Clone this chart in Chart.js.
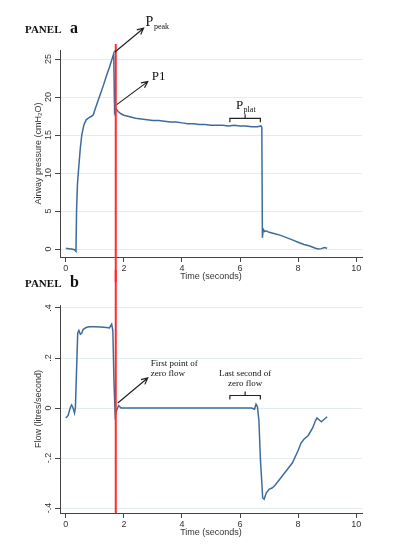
<!DOCTYPE html>
<html>
<head>
<meta charset="utf-8">
<script src="https://cdn.jsdelivr.net/npm/chart.js@4.4.1/dist/chart.umd.min.js"></script>
<style>
html, body { margin: 0; padding: 0; background: #fff; }
#wrap { position: relative; width: 399px; height: 553px; overflow: hidden; }
canvas { position: absolute; left: 0; }
#panelA { top: 0; }
#panelB { top: 270px; }
</style>
</head>
<body>
<div id="wrap">
  <canvas id="panelA" width="399" height="282"></canvas>
  <canvas id="panelB" width="399" height="268"></canvas>
</div>
<script>
// axis ticks
var timeTicks = [0, 2, 4, 6, 8, 10];
var pressureTicks = [0, 5, 10, 15, 20, 25];
var flowTicks = [-0.4, -0.2, 0, 0.2, 0.4];

// panel a : airway pressure (cmH2O)
var pressureTime = [0, 0.1, 0.2, 0.3, 0.35, 0.37, 0.4, 0.45, 0.5, 0.55, 0.62, 0.7, 0.8, 0.9, 0.95,
  1.0, 1.1, 1.2, 1.3, 1.4, 1.5, 1.6, 1.65, 1.68, 1.72, 1.8, 1.9, 2.0, 2.2, 2.4, 2.6, 2.8, 3.0,
  3.2, 3.4, 3.6, 3.8, 4.0, 4.2, 4.4, 4.6, 4.8, 5.0, 5.2, 5.4, 5.6, 5.8, 6.0, 6.2, 6.4, 6.6,
  6.72, 6.75, 6.77, 6.8, 6.85, 6.9, 7.0, 7.2, 7.4, 7.6, 7.8, 8.0, 8.2, 8.4, 8.6, 8.7, 8.8, 8.9, 9.0];
var pressureValue = [0.1, 0.05, 0, -0.1, -0.3, 5, 8.5, 11, 13.3, 15, 16.3, 17, 17.3, 17.5, 17.7,
  18.3, 19.4, 20.5, 21.6, 22.8, 23.9, 25.1, 25.7, 18.0, 18.5, 18.1, 17.8, 17.6, 17.4, 17.2, 17.1, 17.0, 16.9,
  16.9, 16.8, 16.7, 16.7, 16.6, 16.5, 16.5, 16.4, 16.4, 16.3, 16.3, 16.3, 16.2, 16.3, 16.2, 16.2, 16.1, 16.1,
  16.2, 16.0, 1.5, 2.6, 2.3, 2.4, 2.2, 2.0, 1.8, 1.5, 1.2, 0.9, 0.6, 0.4, 0.1, 0.0, 0.05, 0.2, 0.1];

// panel b : flow (litres/second)
var flowTime = [0, 0.08, 0.15, 0.2, 0.25, 0.3, 0.33, 0.37, 0.41, 0.45, 0.5, 0.55, 0.6, 0.7, 0.8,
  1.0, 1.2, 1.4, 1.5, 1.55, 1.58, 1.62, 1.66, 1.7, 1.75, 1.82, 1.9, 2.5, 3.5, 4.5, 5.5, 6.4,
  6.5, 6.55, 6.6, 6.65, 6.7, 6.78, 6.83, 6.9, 7.0, 7.1, 7.2, 7.4, 7.6, 7.8, 8.0, 8.1, 8.2,
  8.35, 8.5, 8.6, 8.65, 8.75, 8.8, 8.9, 9.0];
var flowValue = [-0.04, -0.03, 0.0, 0.012, 0.0, -0.02, 0.0, 0.15, 0.3, 0.31, 0.295, 0.3, 0.315, 0.322, 0.325,
  0.325, 0.324, 0.322, 0.32, 0.33, 0.335, 0.31, 0.1, -0.03, -0.01, 0.01, 0.0, 0.0, 0.0, 0.0, 0.0, 0.0,
  -0.005, 0.015, 0.005, -0.05, -0.2, -0.36, -0.365, -0.34, -0.325, -0.32, -0.31, -0.28, -0.25, -0.22, -0.17, -0.14, -0.125,
  -0.11, -0.08, -0.05, -0.04, -0.05, -0.055, -0.045, -0.035];

var markerTime = 1.72;

var lineColor = '#3d6c9c';
var sans = '"Liberation Sans", Arial, sans-serif';
var serif = '"Liberation Serif", "Times New Roman", serif';

function toPoints(xs, ys) {
  return xs.map(function (x, i) { return { x: x, y: ys[i] }; });
}

function fixedTicks(list) {
  return function (scale) {
    scale.ticks = list.map(function (v) { return { value: v }; });
  };
}

function flowLabel(v) {
  if (v === 0) return '0';
  var s = String(Math.abs(Math.round(v * 10) / 10)).replace(/^0/, '');
  return (v < 0 ? '-' : '') + s;
}

function arrow(ctx, x1, y1, x2, y2) {
  var a = Math.atan2(y2 - y1, x2 - x1), h = 7;
  ctx.beginPath();
  ctx.moveTo(x1, y1);
  ctx.lineTo(x2, y2);
  ctx.moveTo(x2 - h * Math.cos(a - 0.45), y2 - h * Math.sin(a - 0.45));
  ctx.lineTo(x2, y2);
  ctx.lineTo(x2 - h * Math.cos(a + 0.45), y2 - h * Math.sin(a + 0.45));
  ctx.stroke();
}

function bracket(ctx, x1, x2, y) {
  var mid = (x1 + x2) / 2;
  ctx.beginPath();
  ctx.moveTo(x1, y + 4);
  ctx.lineTo(x1, y);
  ctx.lineTo(x2, y);
  ctx.lineTo(x2, y + 4);
  ctx.moveTo(mid, y);
  ctx.lineTo(mid, y - 4);
  ctx.stroke();
}

function subLabel(ctx, x, y, main, sub, size) {
  ctx.textAlign = 'left';
  ctx.textBaseline = 'alphabetic';
  ctx.font = size + 'px ' + serif;
  ctx.fillText(main, x, y);
  var w = ctx.measureText(main).width;
  ctx.font = Math.round(size * 0.6) + 'px ' + serif;
  ctx.fillText(sub, x + w + 0.5, y + 3);
}

function panelTitle(ctx, y, letter) {
  ctx.fillStyle = '#111';
  ctx.textAlign = 'left';
  ctx.textBaseline = 'alphabetic';
  ctx.font = 'bold 11px ' + serif;
  ctx.fillText('PANEL', 25, y);
  ctx.font = 'bold 16px ' + serif;
  ctx.fillText(letter, 70, y);
}

function scales(yTicks, yMin, yMax, yTitle, yFormat) {
  return {
    x: {
      type: 'linear', min: -0.2, max: 10.2,
      afterBuildTicks: fixedTicks(timeTicks),
      afterFit: function (s) { s.height = 25; },
      grid: { drawOnChartArea: false, tickLength: 5, tickColor: '#444' },
      border: { color: '#444', width: 1 },
      ticks: { padding: 1, color: '#333', font: { family: sans, size: 9 } },
      title: { display: true, text: 'Time (seconds)', color: '#333', padding: 0, font: { family: sans, size: 9 } }
    },
    y: {
      type: 'linear', min: yMin, max: yMax,
      afterBuildTicks: fixedTicks(yTicks),
      afterFit: function (s) { s.width = 27; },
      grid: { color: '#e3edf0', lineWidth: 1, tickLength: 5, tickColor: '#444' },
      border: { color: '#444', width: 1 },
      ticks: { padding: 1, minRotation: 90, maxRotation: 90, crossAlign: 'center', color: '#333',
        font: { family: sans, size: 9 }, callback: yFormat },
      title: { display: true, text: yTitle, color: '#333', padding: 0, font: { family: sans, size: 9 } }
    }
  };
}

var notesA = {
  id: 'notesA',
  afterDatasetsDraw: function (chart) {
    var ctx = chart.ctx, xs = chart.scales.x, a = chart.chartArea;
    var x = xs.getPixelForValue(markerTime);
    ctx.save();
    ctx.strokeStyle = '#ff2b2b';
    ctx.lineWidth = 2;
    ctx.beginPath();
    ctx.moveTo(x, a.top - 6);
    ctx.lineTo(x, chart.height);
    ctx.stroke();
    ctx.restore();
  },
  afterDraw: function (chart) {
    var ctx = chart.ctx, xs = chart.scales.x, ys = chart.scales.y;
    ctx.save();
    panelTitle(ctx, 33, 'a');
    ctx.strokeStyle = '#222';
    ctx.fillStyle = '#111';
    ctx.lineWidth = 1.2;
    var px = xs.getPixelForValue(1.68), py = ys.getPixelForValue(25.9);
    arrow(ctx, px, py, px + 29, py - 24);
    subLabel(ctx, px + 31, py - 26, 'P', 'peak', 14);
    var qx = xs.getPixelForValue(markerTime) + 1, qy = ys.getPixelForValue(19);
    arrow(ctx, qx, qy, qx + 31, qy - 23);
    ctx.font = '13px ' + serif;
    ctx.textAlign = 'left';
    ctx.fillText('P1', qx + 35, qy - 25);
    var b1 = xs.getPixelForValue(5.65), b2 = xs.getPixelForValue(6.7), by = ys.getPixelForValue(17.2);
    bracket(ctx, b1, b2, by);
    subLabel(ctx, b1 + 6, by - 9, 'P', 'plat', 13);
    ctx.restore();
  }
};

var notesB = {
  id: 'notesB',
  afterDatasetsDraw: function (chart) {
    var ctx = chart.ctx, xs = chart.scales.x, a = chart.chartArea;
    var x = xs.getPixelForValue(markerTime);
    ctx.save();
    ctx.strokeStyle = '#ff2b2b';
    ctx.lineWidth = 2;
    ctx.beginPath();
    ctx.moveTo(x, 0);
    ctx.lineTo(x, a.bottom);
    ctx.stroke();
    ctx.restore();
  },
  afterDraw: function (chart) {
    var ctx = chart.ctx, xs = chart.scales.x, ys = chart.scales.y;
    ctx.save();
    panelTitle(ctx, 17, 'b');
    ctx.strokeStyle = '#222';
    ctx.fillStyle = '#111';
    ctx.lineWidth = 1.2;
    var px = xs.getPixelForValue(markerTime) + 2, py = ys.getPixelForValue(0.02);
    arrow(ctx, px, py, px + 30, py - 25);
    ctx.font = '9px ' + serif;
    ctx.textAlign = 'left';
    ctx.textBaseline = 'alphabetic';
    ctx.fillText('First point of', px + 33, py - 37);
    ctx.fillText('zero flow', px + 33, py - 27);
    var b1 = xs.getPixelForValue(5.65), b2 = xs.getPixelForValue(6.7), by = ys.getPixelForValue(0.05);
    bracket(ctx, b1, b2, by);
    ctx.textAlign = 'center';
    ctx.fillText('Last second of', (b1 + b2) / 2, by - 20);
    ctx.fillText('zero flow', (b1 + b2) / 2, by - 10);
    ctx.restore();
  }
};

function makeChart(id, times, values, yTicks, yMin, yMax, yTitle, yFormat, top, plugin) {
  return new Chart(document.getElementById(id), {
    type: 'scatter',
    data: {
      datasets: [{
        data: toPoints(times, values),
        showLine: true,
        borderColor: lineColor,
        borderWidth: 1.5,
        pointRadius: 0,
        tension: 0
      }]
    },
    options: {
      responsive: false,
      animation: false,
      devicePixelRatio: 1,
      layout: { padding: { left: 33, right: 37, top: top, bottom: 0 } },
      plugins: { legend: { display: false }, tooltip: { enabled: false } },
      scales: scales(yTicks, yMin, yMax, yTitle, yFormat)
    },
    plugins: [plugin]
  });
}

makeChart('panelA', pressureTime, pressureValue, pressureTicks, -1.05, 26.19,
  'Airway pressure (cmH\u2082O)', function (v) { return String(v); }, 50, notesA);
makeChart('panelB', flowTime, flowValue, flowTicks, -0.42, 0.412,
  'Flow (litres/second)', flowLabel, 35, notesB);
</script>
</body>
</html>
